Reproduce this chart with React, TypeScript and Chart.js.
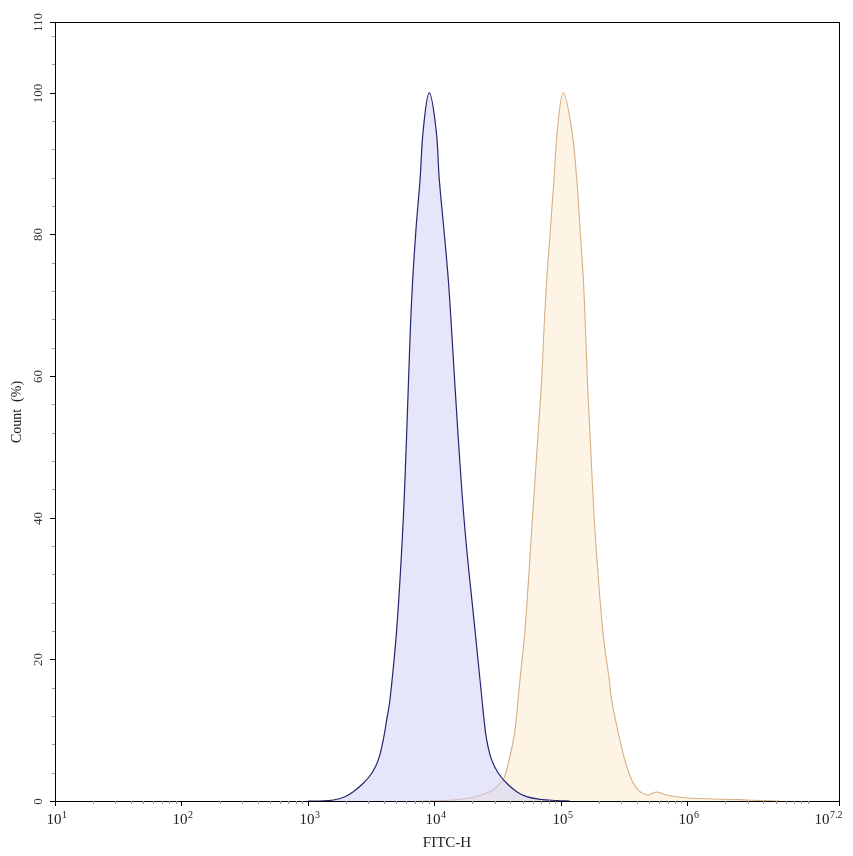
import React, { useEffect, useRef } from "react";
import { Chart, registerables } from "chart.js";

Chart.register(...registerables);

// log10(FITC-H) positions and Count (%) values
const blueLog = [3.0, 3.096, 3.201, 3.293, 3.359, 3.438, 3.505, 3.557, 3.596, 3.623, 3.649, 3.702, 3.75, 3.781, 3.81, 3.829, 3.855, 3.887, 3.913, 3.96, 4.013, 4.039, 4.075, 4.11, 4.136, 4.187, 4.242, 4.321, 4.377, 4.393, 4.414, 4.453, 4.506, 4.572, 4.651, 4.73, 4.835, 4.968, 5.07];
const blueCount = [0, 0, 0.14, 0.61, 1.32, 2.5, 3.92, 5.8, 8.63, 11.46, 14.29, 24.2, 38.3, 51.8, 66.6, 73.7, 80.8, 87.8, 94.9, 100, 94.9, 87.8, 80.8, 73.7, 66.6, 51.8, 38.3, 24.2, 14.29, 11.46, 8.63, 5.8, 3.92, 2.5, 1.32, 0.61, 0.24, 0.07, 0];

const orangeLog = [3.91, 4.147, 4.256, 4.345, 4.414, 4.466, 4.519, 4.545, 4.579, 4.634, 4.662, 4.677, 4.717, 4.77, 4.82, 4.849, 4.867, 4.889, 4.918, 4.946, 4.974, 5.02, 5.085, 5.126, 5.152, 5.178, 5.195, 5.21, 5.231, 5.27, 5.331, 5.383, 5.402, 5.455, 5.521, 5.573, 5.626, 5.679, 5.713, 5.758, 5.837, 5.943, 6.045, 6.259, 6.417, 6.52, 6.73];
const orangeCount = [0, 0.14, 0.38, 0.71, 1.13, 1.56, 2.5, 2.97, 4.85, 9.58, 14.29, 17.1, 24.2, 38.3, 51.8, 59.5, 66.6, 73.7, 80.8, 87.8, 94.9, 100, 94.9, 87.8, 80.8, 73.7, 66.6, 59.5, 51.8, 38.3, 24.2, 17.1, 14.29, 9.58, 4.85, 2.5, 1.32, 0.85, 0.99, 1.27, 0.85, 0.52, 0.38, 0.24, 0.2, 0.1, 0];

const xMajorExps = [1, 2, 3, 4, 5, 6, 7.2];
const xExpLabels = ["1", "2", "3", "4", "5", "6", "7.2"];
const yMajorTicks = [0, 20, 40, 60, 80, 100, 110];
const xTitle = "FITC-H";
const yTitle = "Count  (%)";

const SERIF = '"Liberation Serif", "Times New Roman", serif';

const axisPlugin = {
  id: "flowAxes",
  afterDraw(chart: any) {
    const ctx = chart.ctx;
    const { left, right, top, bottom } = chart.chartArea;
    const xs = chart.scales.x;
    const ys = chart.scales.y;
    ctx.save();
    // frame
    ctx.strokeStyle = "#000";
    ctx.lineWidth = 1;
    ctx.strokeRect(Math.round(left) + 0.5, Math.round(top) + 0.5, Math.round(right - left), Math.round(bottom - top));

    // y minor ticks
    ctx.strokeStyle = "#999";
    for (let v = 4; v < 110; v += 4) {
      if (v % 20 === 0) continue;
      const y = Math.round(ys.getPixelForValue(v)) + 0.5;
      ctx.beginPath();
      ctx.moveTo(left - 3, y);
      ctx.lineTo(left, y);
      ctx.stroke();
    }
    // y major ticks & labels
    ctx.strokeStyle = "#000";
    ctx.fillStyle = "#333";
    ctx.font = `13px ${SERIF}`;
    ctx.textAlign = "center";
    ctx.textBaseline = "middle";
    yMajorTicks.forEach((v) => {
      const y = Math.round(ys.getPixelForValue(v)) + 0.5;
      ctx.beginPath();
      ctx.moveTo(left - 5, y);
      ctx.lineTo(left, y);
      ctx.stroke();
      ctx.save();
      ctx.translate(39, y);
      ctx.rotate(-Math.PI / 2);
      ctx.fillText(String(v), 0, 0);
      ctx.restore();
    });

    // x minor ticks
    ctx.strokeStyle = "#999";
    for (let d = 1; d <= 7; d++) {
      for (let k = 2; k <= 9; k++) {
        const val = k * Math.pow(10, d);
        if (val > Math.pow(10, 7.2)) continue;
        const x = Math.round(xs.getPixelForValue(val)) + 0.5;
        ctx.beginPath();
        ctx.moveTo(x, bottom);
        ctx.lineTo(x, bottom + 3);
        ctx.stroke();
      }
    }
    // x major ticks & labels
    ctx.strokeStyle = "#000";
    ctx.fillStyle = "#222";
    ctx.textBaseline = "alphabetic";
    ctx.textAlign = "left";
    xMajorExps.forEach((e, i) => {
      const x = Math.round(xs.getPixelForValue(Math.pow(10, e))) + 0.5;
      ctx.beginPath();
      ctx.moveTo(x, bottom);
      ctx.lineTo(x, bottom + 5);
      ctx.stroke();
      ctx.font = `15px ${SERIF}`;
      const bw = ctx.measureText("10").width;
      ctx.font = `10px ${SERIF}`;
      const ew = ctx.measureText(xExpLabels[i]).width;
      let start = x - (bw + ew) / 2 + 1;
      if (start + bw + ew > 842) start = 842 - bw - ew;
      ctx.font = `15px ${SERIF}`;
      ctx.fillText("10", start, 824);
      ctx.font = `10px ${SERIF}`;
      ctx.fillText(xExpLabels[i], start + bw + 0.5, 818);
    });

    // titles
    ctx.fillStyle = "#222";
    ctx.font = `15px ${SERIF}`;
    ctx.textAlign = "center";
    ctx.fillText(xTitle, 447, 847);
    ctx.save();
    ctx.translate(17, 412);
    ctx.rotate(-Math.PI / 2);
    ctx.font = `14px ${SERIF}`;
    ctx.textBaseline = "middle";
    ctx.fillText(yTitle, 0, 0);
    ctx.restore();
    ctx.restore();
  },
};

export default function App() {
  const ref = useRef<HTMLCanvasElement | null>(null);
  useEffect(() => {
    if (!ref.current) return;
    const toPoints = (xsL: number[], ys: number[]) => xsL.map((e, i) => ({ x: Math.pow(10, e), y: ys[i] }));
    const chart = new Chart(ref.current, {
      type: "line",
      data: {
        datasets: [
          {
            label: "Control",
            data: toPoints(blueLog, blueCount),
            borderColor: "#23266e",
            backgroundColor: "rgba(205, 205, 248, 0.5)",
            borderWidth: 1.2,
            pointRadius: 0,
            fill: "origin",
            tension: 0.4,
          },
          {
            label: "Sample",
            data: toPoints(orangeLog, orangeCount),
            borderColor: "#d6b084",
            backgroundColor: "rgba(252, 230, 200, 0.45)",
            borderWidth: 1.1,
            pointRadius: 0,
            fill: "origin",
            tension: 0.4,
          },
        ],
      },
      options: {
        responsive: false,
        animation: false,
        layout: { padding: { top: 22, right: 14, left: 0, bottom: 0 } },
        plugins: { legend: { display: false }, tooltip: { enabled: false } },
        scales: {
          x: {
            type: "logarithmic",
            min: 10,
            max: Math.pow(10, 7.2),
            ticks: { display: false },
            grid: { display: false },
            border: { display: false },
            afterFit: (s: any) => {
              s.height = 55;
            },
          },
          y: {
            type: "linear",
            min: 0,
            max: 110,
            ticks: { display: false },
            grid: { display: false },
            border: { display: false },
            afterFit: (s: any) => {
              s.width = 55;
            },
          },
        },
      },
      plugins: [axisPlugin],
    } as any);
    return () => chart.destroy();
  }, []);
  return (
    <div style={{ position: "fixed", left: 0, top: 0, width: 853, height: 856, background: "#fff" }}>
      <canvas ref={ref} width={853} height={856} style={{ display: "block" }} />
    </div>
  );
}
